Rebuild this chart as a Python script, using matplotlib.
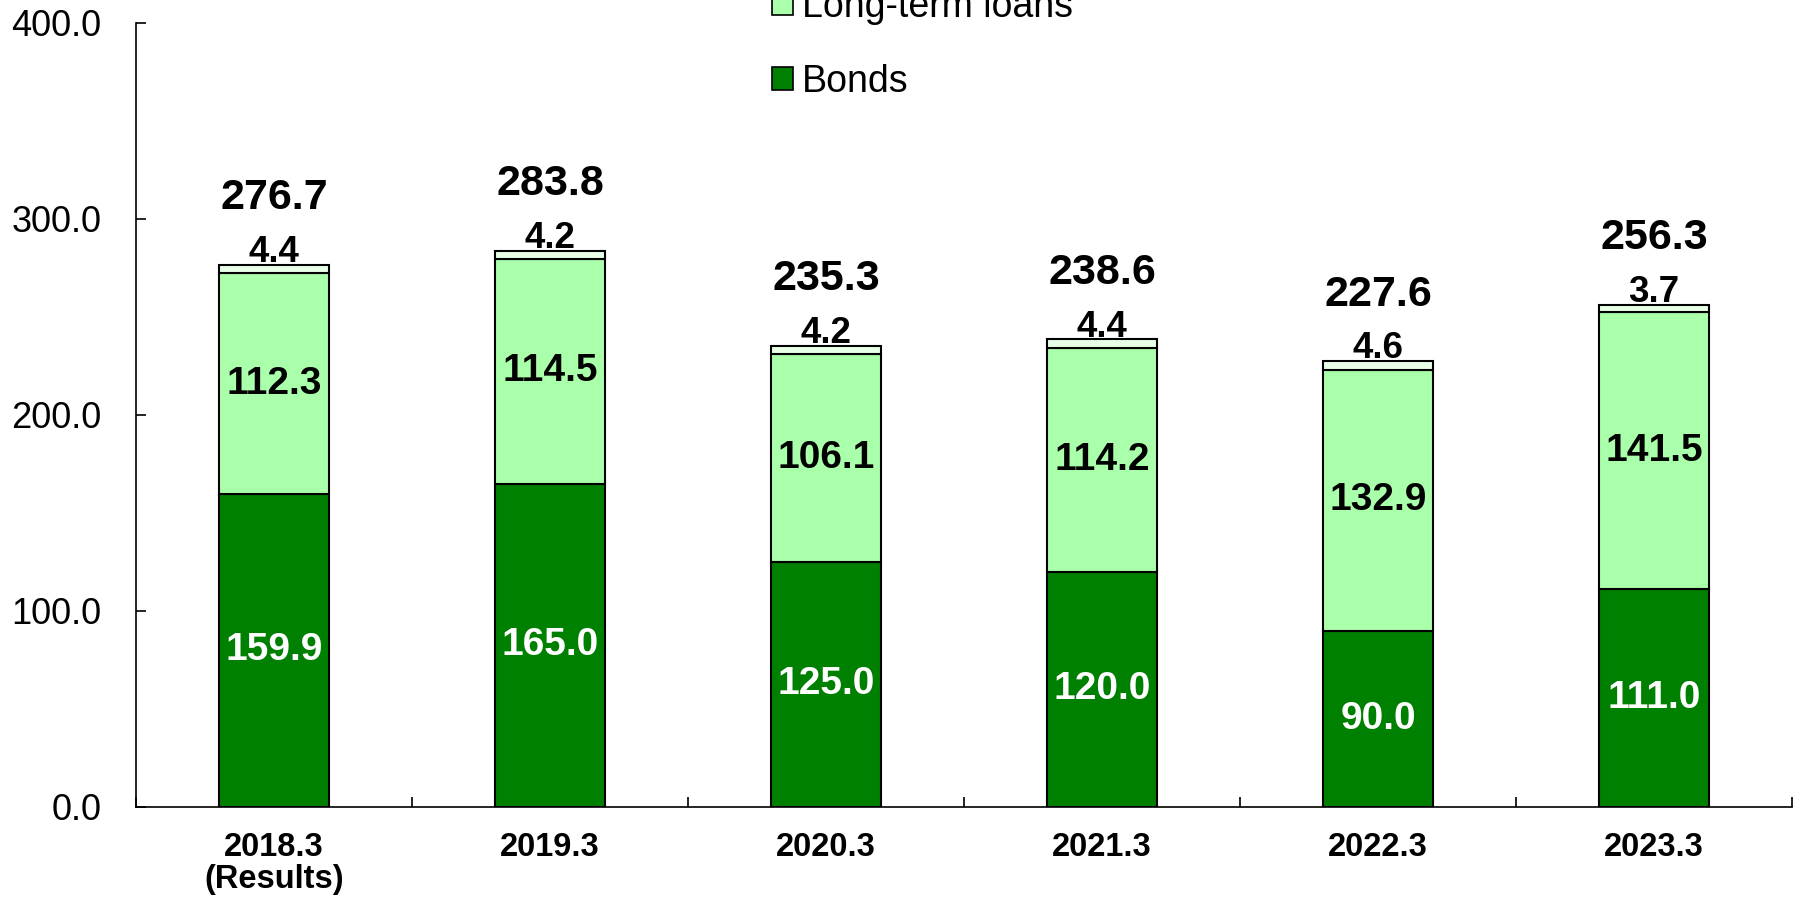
import numpy as np
import matplotlib
matplotlib.use('Agg')
from matplotlib import pyplot as plt
from matplotlib.patches import Patch
from matplotlib.transforms import IdentityTransform

plt.rcParams['font.family'] = ['Liberation Sans', 'DejaVu Sans']

# 有利子負債の内訳（億円）
years = ['2018.3\n(Results)', '2019.3', '2020.3', '2021.3', '2022.3', '2023.3']
bonds = [159.9, 165.0, 125.0, 120.0, 90.0, 111.0]
long_loans = [112.3, 114.5, 106.1, 114.2, 132.9, 141.5]
other = [4.4, 4.2, 4.2, 4.4, 4.6, 3.7]
totals = [276.7, 283.8, 235.3, 238.6, 227.6, 256.3]
yticks = [0, 100, 200, 300, 400]

c_bonds = '#008000'
c_long = '#aaffaa'
c_other = '#e8ffe8'

fig = plt.figure(figsize=(17.94, 9.0), dpi=100)
ax = fig.add_axes([136/1794, 1-807/900, (1792-136)/1794, (807-23)/900])

x = np.arange(len(years))
w = 0.4
ax.bar(x, bonds, w, color=c_bonds, edgecolor='black', linewidth=1.5)
ax.bar(x, long_loans, w, bottom=bonds, color=c_long, edgecolor='black', linewidth=1.5)
base3 = np.array(bonds) + np.array(long_loans)
ax.bar(x, other, w, bottom=base3, color=c_other, edgecolor='black', linewidth=1.5)

# 値ラベル
for i in range(len(x)):
    ax.text(x[i], bonds[i] / 2, f'{bonds[i]:.1f}', ha='center', va='center',
            color='white', fontsize=28, fontweight='bold')
    ax.text(x[i], bonds[i] + long_loans[i] / 2, f'{long_loans[i]:.1f}', ha='center',
            va='center', color='black', fontsize=28, fontweight='bold')
    top = base3[i] + other[i]
    ax.annotate(f'{other[i]:.1f}', (x[i], top), xytext=(0, 2), textcoords='offset points',
                ha='center', va='baseline', fontsize=26.5, fontweight='bold')
    ax.annotate(f'{totals[i]:.1f}', (x[i], top), xytext=(0, 40), textcoords='offset points',
                ha='center', va='baseline', fontsize=31, fontweight='bold')

ax.set_xlim(-0.5, len(years) - 0.5)
ax.set_ylim(0, 400)
ax.set_yticks(yticks)
ax.set_yticklabels([f'{v:.1f}' for v in yticks])
ax.tick_params(axis='y', direction='in', length=7, width=1.2, labelsize=26, pad=25)

# 区切りの目盛りと項目名
ax.set_xticks(np.arange(len(years) + 1) - 0.5)
ax.set_xticklabels([])
ax.set_xticks(x, minor=True)
ax.set_xticklabels(years, minor=True, fontsize=23.5, fontweight='bold', linespacing=1.05)
ax.tick_params(axis='x', which='major', direction='in', length=7, width=1.2)
ax.tick_params(axis='x', which='minor', length=0, pad=18)

for s in ['top', 'right']:
    ax.spines[s].set_visible(False)
for s in ['left', 'bottom']:
    ax.spines[s].set_linewidth(1.2)

handles = [Patch(facecolor=c_long, edgecolor='black', linewidth=1.2),
           Patch(facecolor=c_bonds, edgecolor='black', linewidth=1.2)]
fig.legend(handles, ['Long-term loans', 'Bonds'], loc='lower left',
           bbox_to_anchor=(772, 800), bbox_transform=IdentityTransform(),
           frameon=False, fontsize=27, borderpad=0, borderaxespad=0,
           handlelength=0.55, handleheight=0.55, handletextpad=0.25, labelspacing=1.05)

fig.savefig('out.png', dpi=100)
